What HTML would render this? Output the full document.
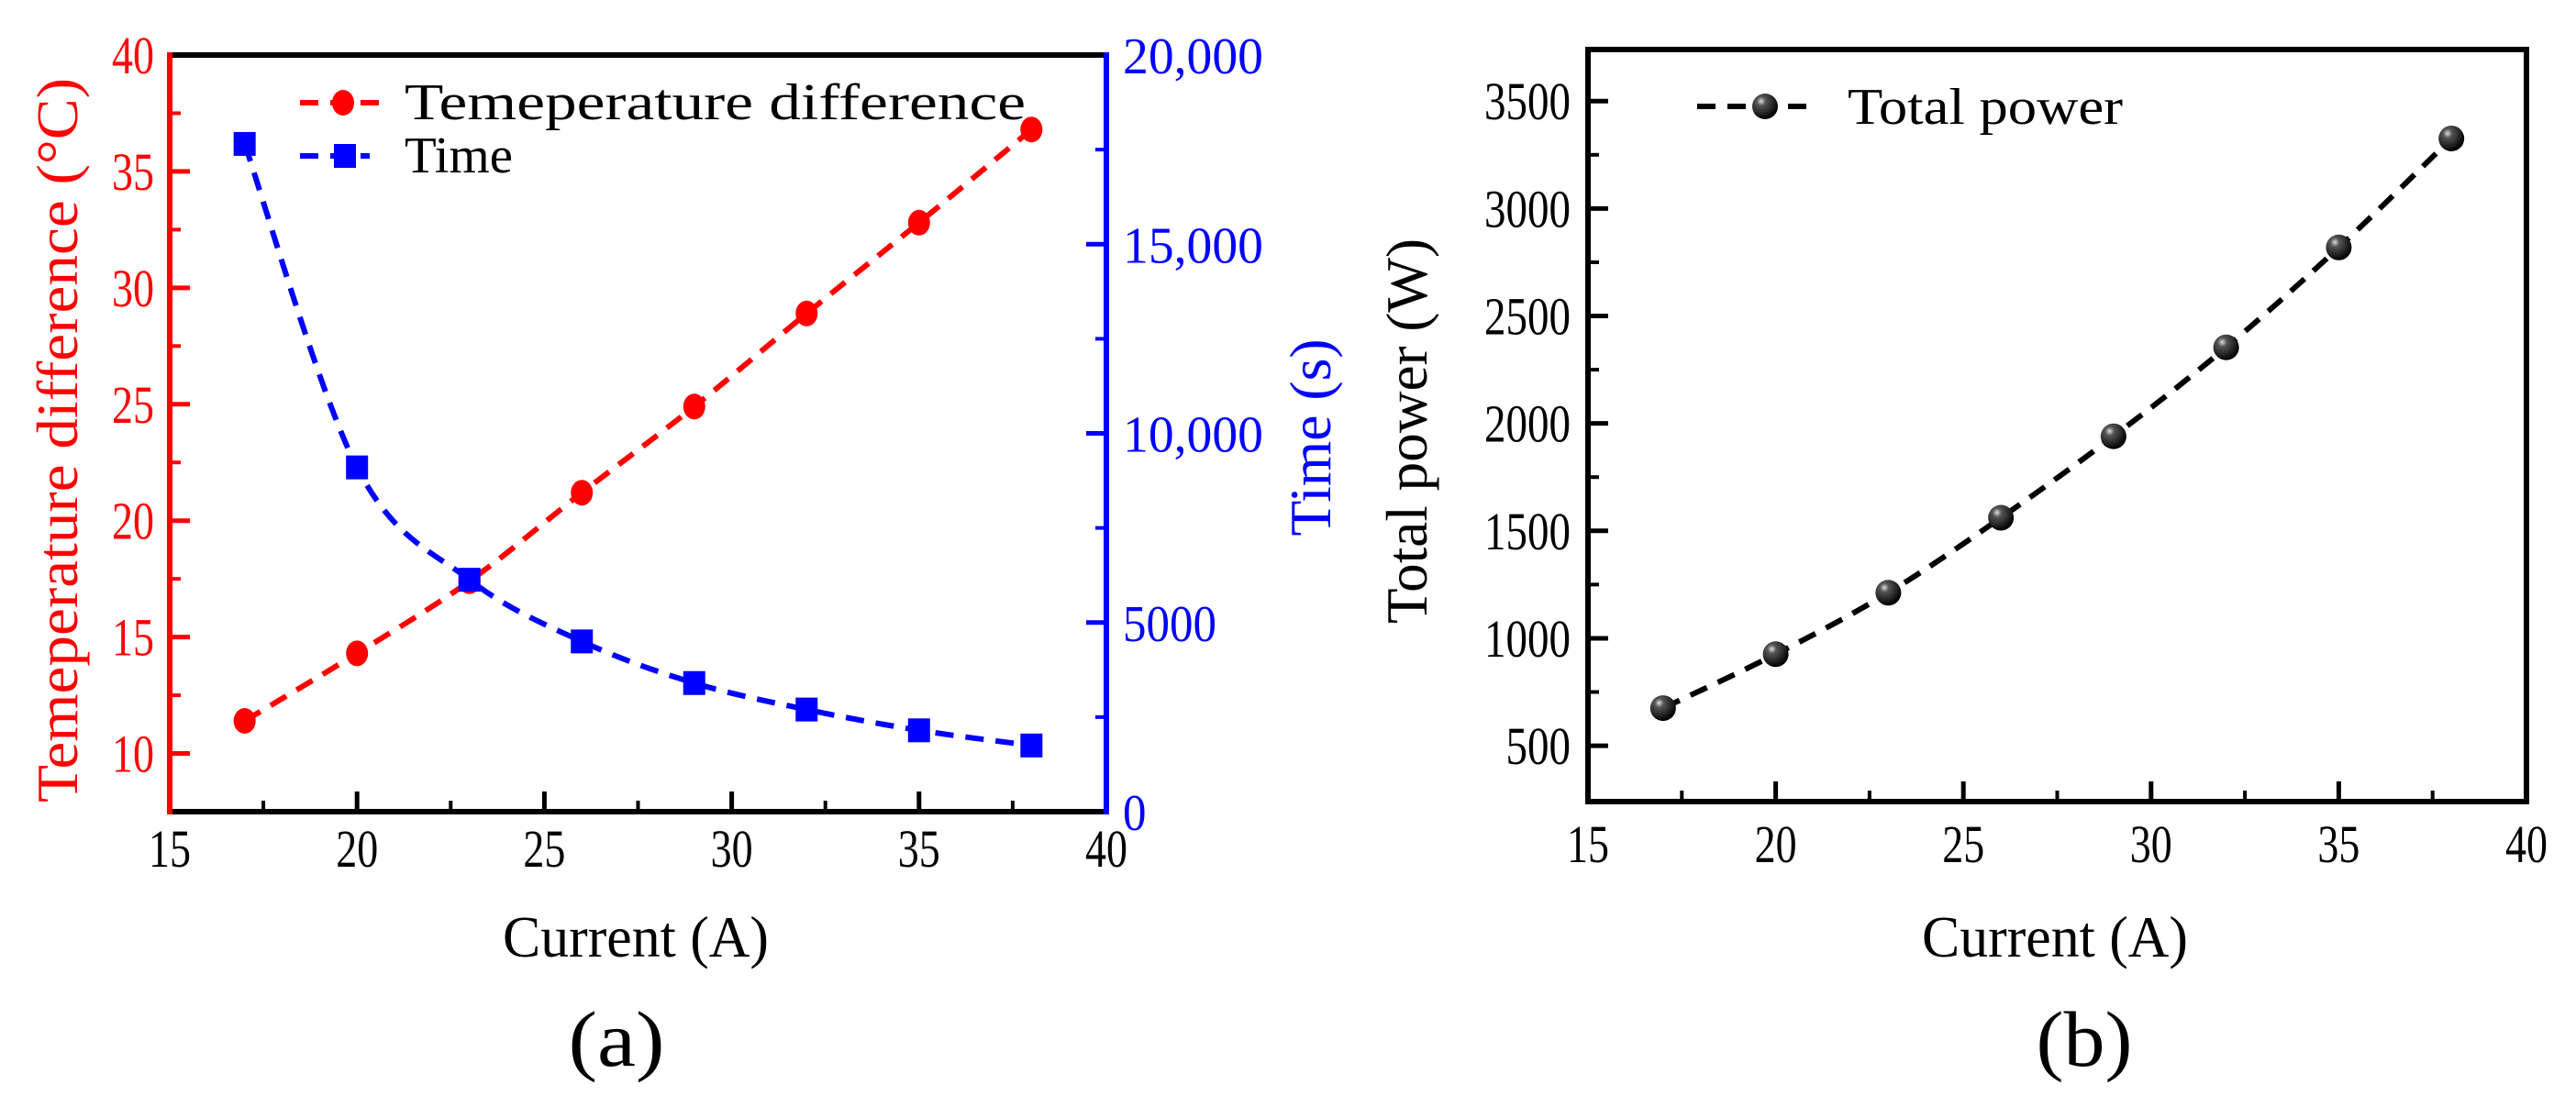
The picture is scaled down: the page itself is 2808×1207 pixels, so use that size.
<!DOCTYPE html>
<html><head><meta charset="utf-8"><style>
html,body{margin:0;padding:0;background:#fff;}
svg, svg text{font-family:"Liberation Serif","Times New Roman",serif;}
</style></head><body>
<svg id="fig" width="2808" height="1202" viewBox="0 0 2808 1202" xmlns="http://www.w3.org/2000/svg">
<defs>
<radialGradient id="sph" cx="0.35" cy="0.3" r="0.7">
<stop offset="0" stop-color="#ddd"/><stop offset="0.25" stop-color="#555"/><stop offset="1" stop-color="#000"/>
</radialGradient>
</defs>
<g id="pa"></g>
<g id="pb"></g>
</svg>
<script>
const currents = [17, 20, 23, 26, 29, 32, 35, 38];
const tempDiff = [11.4, 14.3, 17.4, 21.2, 24.9, 28.9, 32.8, 36.8];
const timeVals = [17650, 9100, 6130, 4500, 3400, 2700, 2150, 1750];
const powerVals = [675, 926, 1212, 1561, 1940, 2354, 2819, 3326];
const xTicks = [15, 20, 25, 30, 35, 40];
const tempTicks = [10, 15, 20, 25, 30, 35, 40];
const timeTicks = [0, 5000, 10000, 15000, 20000];
const timeTickLabels = ["0", "5000", "10,000", "15,000", "20,000"];
const powerTicks = [500, 1000, 1500, 2000, 2500, 3000, 3500];

const NS = "http://www.w3.org/2000/svg";
function mk(parent, tag, attrs, text) {
  const e = document.createElementNS(NS, tag);
  for (const k in attrs) e.setAttribute(k, attrs[k]);
  if (text !== undefined) e.textContent = text;
  parent.appendChild(e);
  return e;
}
function lin(d0, d1, r0, r1) { return v => r0 + (v - d0) / (d1 - d0) * (r1 - r0); }
function spline(pts) {
  let d = "M" + pts[0][0] + "," + pts[0][1];
  for (let i = 0; i < pts.length - 1; i++) {
    const p0 = pts[Math.max(0, i - 1)], p1 = pts[i], p2 = pts[i + 1], p3 = pts[Math.min(pts.length - 1, i + 2)];
    const c1 = [p1[0] + (p2[0] - p0[0]) / 6, p1[1] + (p2[1] - p0[1]) / 6];
    const c2 = [p2[0] - (p3[0] - p1[0]) / 6, p2[1] - (p3[1] - p1[1]) / 6];
    d += " C" + c1[0] + "," + c1[1] + " " + c2[0] + "," + c2[1] + " " + p2[0] + "," + p2[1];
  }
  return d;
}
function txt(g, x, y, s, size, fill, anchor, len, extra) {
  const a = {x: x, y: y, "font-size": size, fill: fill, "text-anchor": anchor || "middle", "font-family": "Liberation Serif, Times New Roman, serif"};
  if (len) { a.textLength = len; a.lengthAdjust = "spacingAndGlyphs"; }
  if (extra) for (const k in extra) a[k] = extra[k];
  return mk(g, "text", a, s);
}

// ---------- Chart A ----------
const ga = document.getElementById("pa");
const AL = 185, AR = 1206, AT = 60, AB = 885;
const xA = lin(15, 40, AL, AR);
const yT = lin(7.5, 40, AB, AT);
const yS = lin(0, 20000, AB, AT);

xTicks.forEach(v => {
  const t = mk(ga, "line", {x1: xA(v), x2: xA(v), y1: AB, y2: AB - 22, stroke: "#000", "stroke-width": 5});
  
  
  const l = txt(ga, xA(v), 945, String(v), 58, "#000", "middle", 46);
  
  
});
for (let v = 17.5; v < 40; v += 5) {
  mk(ga, "line", {x1: xA(v), x2: xA(v), y1: AB, y2: AB - 12, stroke: "#000", "stroke-width": 4});
}
tempTicks.forEach(v => {
  mk(ga, "line", {x1: AL, x2: AL + 22, y1: yT(v), y2: yT(v), stroke: "#f00", "stroke-width": 5});
  const l = txt(ga, 168, yT(v) + 20, String(v), 58, "#f00", "end", 46);
  
  
});
for (let v = 12.5; v < 40; v += 5) mk(ga, "line", {x1: AL, x2: AL + 12, y1: yT(v), y2: yT(v), stroke: "#f00", "stroke-width": 4});
timeTicks.forEach((v, i) => {
  mk(ga, "line", {x1: AR, x2: AR - 22, y1: yS(v), y2: yS(v), stroke: "#00f", "stroke-width": 5});
  const lab = timeTickLabels[i];
  const l = txt(ga, 1224, yS(v) + 20, lab, 56, "#00f", "start", lab.length * 25.5);
  
  
});
for (let v = 2500; v < 20000; v += 5000) mk(ga, "line", {x1: AR, x2: AR - 12, y1: yS(v), y2: yS(v), stroke: "#00f", "stroke-width": 4});
mk(ga, "line", {x1: AL, x2: AR, y1: AT, y2: AT, stroke: "#000", "stroke-width": 6,  });
mk(ga, "line", {x1: AL, x2: AR, y1: AB, y2: AB, stroke: "#000", "stroke-width": 6,  });
mk(ga, "line", {x1: AL, x2: AL, y1: AT - 3, y2: AB + 3, stroke: "#f00", "stroke-width": 6,  });
mk(ga, "line", {x1: AR, x2: AR, y1: AT - 3, y2: AB + 3, stroke: "#00f", "stroke-width": 6,  });

const ptsT = currents.map((c, i) => [xA(c), yT(tempDiff[i])]);
mk(ga, "path", {d: spline(ptsT), fill: "none", stroke: "#f00", "stroke-width": 6, "stroke-dasharray": "20 13",  });
ptsT.forEach(p => {
  const c = mk(ga, "ellipse", {cx: p[0], cy: p[1], rx: 12, ry: 14, fill: "#f00"});
  
  
});
const ptsS = currents.map((c, i) => [xA(c), yS(timeVals[i])]);
mk(ga, "path", {d: spline(ptsS), fill: "none", stroke: "#00f", "stroke-width": 6, "stroke-dasharray": "20 13",  });
ptsS.forEach(p => {
  const r = mk(ga, "rect", {x: p[0] - 12, y: p[1] - 13, width: 24, height: 26, fill: "#00f"});
  
  
});
const lg = mk(ga, "g", { });
mk(lg, "line", {x1: 327, x2: 413, y1: 112, y2: 112, stroke: "#f00", "stroke-width": 6, "stroke-dasharray": "20 13"});
mk(lg, "ellipse", {cx: 374, cy: 112, rx: 12, ry: 14, fill: "#f00"});
txt(lg, 441, 130, "Temeperature difference", 56, "#000", "start", 677);
mk(lg, "line", {x1: 327, x2: 403, y1: 170, y2: 170, stroke: "#00f", "stroke-width": 6, "stroke-dasharray": "20 13"});
mk(lg, "rect", {x: 364, y: 157, width: 24, height: 26, fill: "#00f"});
txt(lg, 441, 188, "Time", 56, "#000", "start", 118);
txt(ga, 693, 1043, "Current (A)", 64, "#000", "middle", 290, { });
txt(ga, 672, 1162, "(a)", 86, "#000", "middle", 105, { });
txt(ga, 0, 0, "Temeperature difference (°C)", 64, "#f00", "middle", 790, {transform: "translate(84,480) rotate(-90)",  });
txt(ga, 0, 0, "Time (s)", 64, "#00f", "middle", 215, {transform: "translate(1450,477) rotate(-90)",  });

// ---------- Chart B ----------
const gb = document.getElementById("pb");
const BL = 1731, BR = 2754, BT = 54, BB = 874;
const xB = lin(15, 40, BL, BR);
const yP = lin(240, 3740, BB, BT);
xTicks.forEach(v => {
  mk(gb, "line", {x1: xB(v), x2: xB(v), y1: BB, y2: BB - 22, stroke: "#000", "stroke-width": 5});
  const l = txt(gb, xB(v), 940, String(v), 58, "#000", "middle", 46);
  
  
});
for (let v = 17.5; v < 40; v += 5) mk(gb, "line", {x1: xB(v), x2: xB(v), y1: BB, y2: BB - 12, stroke: "#000", "stroke-width": 4});
powerTicks.forEach(v => {
  mk(gb, "line", {x1: BL, x2: BL + 22, y1: yP(v), y2: yP(v), stroke: "#000", "stroke-width": 5});
  const s = String(v);
  const l = txt(gb, 1712, yP(v) + 20, s, 58, "#000", "end", s.length * 23.5);
  
  
});
for (let v = 750; v < 3700; v += 500) mk(gb, "line", {x1: BL, x2: BL + 12, y1: yP(v), y2: yP(v), stroke: "#000", "stroke-width": 4});
mk(gb, "rect", {x: BL, y: BT, width: BR - BL, height: BB - BT, fill: "none", stroke: "#000", "stroke-width": 6,  });
const ptsP = currents.map((c, i) => [xB(c), yP(powerVals[i])]);
mk(gb, "path", {d: spline(ptsP), fill: "none", stroke: "#000", "stroke-width": 6, "stroke-dasharray": "20 13",  });
ptsP.forEach(p => {
  const c = mk(gb, "circle", {cx: p[0], cy: p[1], r: 14, fill: "url(#sph)"});
  
  
});
const lb = mk(gb, "g", { });
mk(lb, "line", {x1: 1850, x2: 1981, y1: 116, y2: 116, stroke: "#000", "stroke-width": 6, "stroke-dasharray": "20 13"});
mk(lb, "circle", {cx: 1924, cy: 116, r: 14, fill: "url(#sph)"});
txt(lb, 2014, 135, "Total power", 56, "#000", "start", 300);
txt(gb, 2240, 1043, "Current (A)", 64, "#000", "middle", 290, { });
txt(gb, 2272, 1162, "(b)", 86, "#000", "middle", 105, { });
txt(gb, 0, 0, "Total power (W)", 64, "#000", "middle", 420, {transform: "translate(1555,470) rotate(-90)",  });
</script>
</body></html>
